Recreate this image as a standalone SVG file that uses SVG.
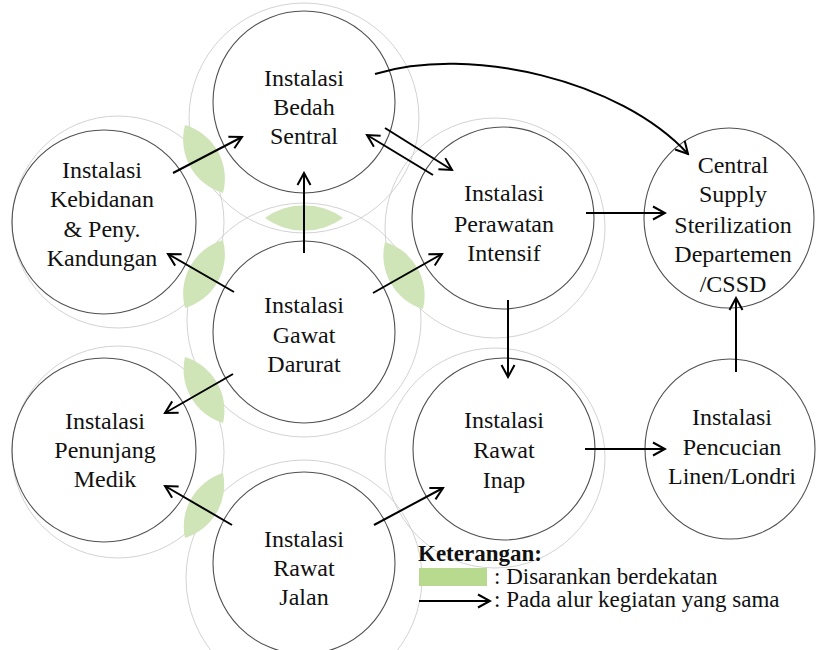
<svg xmlns="http://www.w3.org/2000/svg" width="816" height="650" viewBox="0 0 816 650">
<style>
.halo{fill:none;stroke:#cdcdcd;stroke-width:0.9}
.lens{fill:#cfe4b7;stroke:none}
.node{fill:none;stroke:#505050;stroke-width:1.1}
.lbl{font-family:"Liberation Serif","Times New Roman",serif;font-size:24px;fill:#111;text-anchor:middle}
.leg{font-family:"Liberation Serif","Times New Roman",serif;font-size:23px;fill:#111}
.arr{fill:none;stroke:#000;stroke-width:2;marker-end:url(#ah)}
</style>
<defs>
<marker id="ah" viewBox="0 0 16 16" markerWidth="16" markerHeight="16" refX="14" refY="8" orient="auto" markerUnits="userSpaceOnUse">
<path d="M2,1.5 L14,8 L2,14.5" fill="none" stroke="#000" stroke-width="2"/>
</marker>
</defs>
<rect width="816" height="650" fill="#fff"/>
<g id="halos">
<circle class="halo" cx="304" cy="118" r="115"/>
<circle class="halo" cx="118" cy="222" r="106"/>
<circle class="halo" cx="304" cy="320" r="117"/>
<circle class="halo" cx="495" cy="228" r="110"/>
<circle class="halo" cx="118" cy="452" r="106"/>
<circle class="halo" cx="304" cy="578" r="118"/>
<circle class="halo" cx="495" cy="458" r="110"/>
</g>
<g id="lenses">
<path class="lens" d="M185,125 A56,56 0 0 1 223,193 A56,56 0 0 1 185,125 Z"/>
<path class="lens" d="M223,240 A56,56 0 0 1 185,308 A56,56 0 0 1 223,240 Z"/>
<path class="lens" d="M385,242 A56,56 0 0 1 423,309 A56,56 0 0 1 385,242 Z"/>
<path class="lens" d="M265,218 A66,66 0 0 1 343,218 A66,66 0 0 1 265,218 Z"/>
<path class="lens" d="M185,357 A56,56 0 0 1 223,423 A56,56 0 0 1 185,357 Z"/>
<path class="lens" d="M223,473 A56,56 0 0 1 185,538 A56,56 0 0 1 223,473 Z"/>
</g>
<g id="bedah">
<circle class="node" cx="304" cy="102" r="91"/>
<text class="lbl" x="304" y="86">Instalasi</text>
<text class="lbl" x="304" y="115">Bedah</text>
<text class="lbl" x="304" y="144">Sentral</text>
</g>
<g id="kebidanan">
<circle class="node" cx="104" cy="222" r="92"/>
<text class="lbl" x="102" y="178">Instalasi</text>
<text class="lbl" x="102" y="207">Kebidanan</text>
<text class="lbl" x="102" y="237">&amp; Peny.</text>
<text class="lbl" x="102" y="266">Kandungan</text>
</g>
<g id="gawat">
<circle class="node" cx="304" cy="332" r="91"/>
<text class="lbl" x="304" y="313">Instalasi</text>
<text class="lbl" x="304" y="343">Gawat</text>
<text class="lbl" x="304" y="372">Darurat</text>
</g>
<g id="perawatan">
<circle class="node" cx="503" cy="218" r="91"/>
<text class="lbl" x="504" y="201">Instalasi</text>
<text class="lbl" x="504" y="232">Perawatan</text>
<text class="lbl" x="504" y="261">Intensif</text>
</g>
<g id="cssd">
<ellipse class="node" cx="729" cy="218" rx="85" ry="90"/>
<text class="lbl" x="733" y="173">Central</text>
<text class="lbl" x="733" y="202">Supply</text>
<text class="lbl" x="733" y="233">Sterilization</text>
<text class="lbl" x="733" y="262">Departemen</text>
<text class="lbl" x="733" y="292">/CSSD</text>
</g>
<g id="penunjang">
<circle class="node" cx="104" cy="450" r="92"/>
<text class="lbl" x="105" y="429">Instalasi</text>
<text class="lbl" x="105" y="458">Penunjang</text>
<text class="lbl" x="105" y="487">Medik</text>
</g>
<g id="rawatinap">
<circle class="node" cx="504" cy="449" r="91"/>
<text class="lbl" x="504" y="428">Instalasi</text>
<text class="lbl" x="504" y="458">Rawat</text>
<text class="lbl" x="504" y="488">Inap</text>
</g>
<g id="pencucian">
<ellipse class="node" cx="730" cy="449" rx="85" ry="90"/>
<text class="lbl" x="732" y="425">Instalasi</text>
<text class="lbl" x="732" y="455">Pencucian</text>
<text class="lbl" x="732" y="484">Linen/Londri</text>
</g>
<g id="rawatjalan">
<circle class="node" cx="304" cy="563" r="91"/>
<text class="lbl" x="304" y="547">Instalasi</text>
<text class="lbl" x="304" y="576">Rawat</text>
<text class="lbl" x="304" y="605">Jalan</text>
</g>
<g id="connectors">
<line class="arr" x1="173" y1="173" x2="242" y2="137"/>
<line class="arr" x1="304" y1="253" x2="304" y2="173"/>
<line class="arr" x1="433" y1="175" x2="367" y2="135"/>
<line class="arr" x1="385" y1="128" x2="452" y2="170"/>
<path class="arr" d="M375,74 C470,45 620,80 688,154"/>
<line class="arr" x1="586" y1="213" x2="665" y2="213"/>
<line class="arr" x1="234" y1="292" x2="168" y2="254"/>
<line class="arr" x1="373" y1="293" x2="442" y2="254"/>
<line class="arr" x1="233" y1="374" x2="165" y2="413"/>
<line class="arr" x1="232" y1="525" x2="165" y2="486"/>
<line class="arr" x1="374" y1="525" x2="443" y2="488"/>
<line class="arr" x1="508" y1="300" x2="508" y2="377"/>
<line class="arr" x1="585" y1="449" x2="665" y2="449"/>
<line class="arr" x1="736" y1="372" x2="736" y2="298"/>
</g>
<g id="legend">
<text class="leg" x="418" y="561" font-weight="bold" font-size="24">Keterangan:</text>
<rect x="419" y="568" width="68" height="18" fill="#b7da8e"/>
<text class="leg" x="494" y="584">: Disarankan berdekatan</text>
<line class="arr" x1="419" y1="601" x2="490" y2="601"/>
<text class="leg" x="494" y="607">: Pada alur kegiatan yang sama</text>
</g>
</svg>
